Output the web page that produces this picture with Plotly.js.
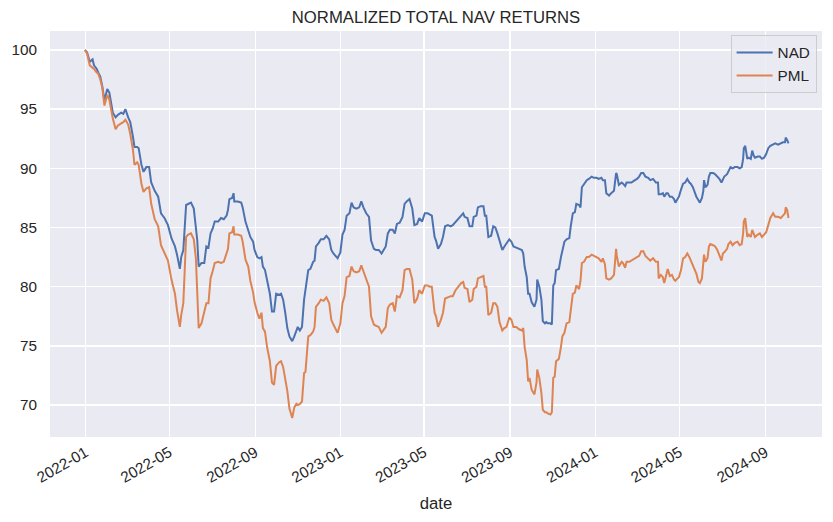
<!DOCTYPE html>
<html>
<head>
<meta charset="utf-8">
<script src="https://cdn.plot.ly/plotly-3.0.1.min.js"></script>
<style>
  html, body { margin: 0; padding: 0; background: #ffffff; }
  #chart { width: 833px; height: 522px; }
</style>
</head>
<body>
<div id="chart"></div>
<script>
// Dates of sampled observations
const dates = [
  "2021-12-31","2022-01-03","2022-01-07","2022-01-11","2022-01-13","2022-01-17","2022-01-19","2022-01-22","2022-01-25","2022-01-28",
  "2022-02-01","2022-02-04","2022-02-09","2022-02-13","2022-02-16","2022-02-21","2022-02-24","2022-02-27","2022-03-03","2022-03-06",
  "2022-03-10","2022-03-12","2022-03-16","2022-03-18","2022-03-22","2022-03-25","2022-03-29","2022-04-02","2022-04-05","2022-04-10",
  "2022-04-15","2022-04-19","2022-04-24","2022-04-29","2022-05-04","2022-05-09","2022-05-12","2022-05-16","2022-05-18","2022-05-21",
  "2022-05-25","2022-05-28","2022-06-01","2022-06-05","2022-06-08",
  "2022-06-10","2022-06-12","2022-06-16","2022-06-20","2022-06-23","2022-06-26","2022-06-29","2022-07-02","2022-07-05","2022-07-10",
  "2022-07-14","2022-07-18","2022-07-22","2022-07-24","2022-07-26","2022-07-30","2022-08-01","2022-08-02","2022-08-07","2022-08-12",
  "2022-08-14","2022-08-18","2022-08-22","2022-08-25","2022-08-29","2022-08-31","2022-09-04","2022-09-07","2022-09-10","2022-09-12",
  "2022-09-15","2022-09-18","2022-09-22","2022-09-25","2022-09-28","2022-10-01","2022-10-05","2022-10-08","2022-10-11","2022-10-14",
  "2022-10-17","2022-10-20","2022-10-24","2022-10-27","2022-10-30","2022-11-01","2022-11-04","2022-11-07","2022-11-10","2022-11-12",
  "2022-11-16","2022-11-19","2022-11-23",
  "2022-11-25","2022-11-27","2022-12-01","2022-12-04","2022-12-08","2022-12-12","2022-12-16","2022-12-19","2022-12-22","2022-12-26",
  "2022-12-28","2023-01-01","2023-01-04","2023-01-07","2023-01-10","2023-01-14","2023-01-17","2023-01-20","2023-01-24","2023-01-28",
  "2023-01-31","2023-02-03","2023-02-07","2023-02-11","2023-02-14","2023-02-18","2023-02-21","2023-02-25","2023-03-01","2023-03-04",
  "2023-03-07","2023-03-10","2023-03-13","2023-03-17","2023-03-20","2023-03-23","2023-03-27","2023-03-31","2023-04-03","2023-04-06",
  "2023-04-10","2023-04-14","2023-04-17","2023-04-21","2023-04-24","2023-04-28","2023-05-02","2023-05-06",
  "2023-05-09","2023-05-12","2023-05-16","2023-05-18","2023-05-21","2023-05-25","2023-05-28","2023-05-31","2023-06-04","2023-06-08",
  "2023-06-11","2023-06-15","2023-06-19","2023-06-23","2023-06-26","2023-06-28","2023-07-02","2023-07-05","2023-07-09","2023-07-11",
  "2023-07-15","2023-07-17","2023-07-21","2023-07-25","2023-07-27","2023-07-29","2023-08-01","2023-08-05","2023-08-08","2023-08-11",
  "2023-08-14","2023-08-17","2023-08-21","2023-08-24","2023-08-27","2023-08-31","2023-09-03","2023-09-06","2023-09-10","2023-09-14",
  "2023-09-18","2023-09-20","2023-09-22","2023-09-25","2023-09-27","2023-09-29","2023-10-02","2023-10-04","2023-10-06","2023-10-09",
  "2023-10-10","2023-10-13","2023-10-16","2023-10-18",
  "2023-10-21","2023-10-23","2023-10-25","2023-10-29","2023-10-31","2023-11-02","2023-11-04","2023-11-06","2023-11-10","2023-11-13",
  "2023-11-15","2023-11-18","2023-11-21","2023-11-25","2023-11-27","2023-11-30","2023-12-03","2023-12-05","2023-12-09","2023-12-11",
  "2023-12-13","2023-12-16","2023-12-20","2023-12-23","2023-12-27","2023-12-30","2024-01-03","2024-01-06","2024-01-10","2024-01-12",
  "2024-01-15","2024-01-17","2024-01-21","2024-01-24","2024-01-28","2024-01-31","2024-02-01","2024-02-04","2024-02-08","2024-02-10",
  "2024-02-13","2024-02-15","2024-02-19","2024-02-22","2024-02-27","2024-03-01","2024-03-04","2024-03-07","2024-03-10","2024-03-13",
  "2024-03-17","2024-03-20","2024-03-24","2024-03-28","2024-03-31",
  "2024-04-01","2024-04-04","2024-04-07","2024-04-09","2024-04-12","2024-04-14","2024-04-17","2024-04-20","2024-04-23","2024-04-25",
  "2024-04-28","2024-04-30","2024-05-03","2024-05-06","2024-05-09","2024-05-12","2024-05-15","2024-05-17","2024-05-20","2024-05-23",
  "2024-05-25","2024-05-28","2024-05-30","2024-06-02","2024-06-04","2024-06-05","2024-06-07","2024-06-10","2024-06-12","2024-06-14",
  "2024-06-18","2024-06-21","2024-06-24","2024-06-27","2024-06-30","2024-07-02","2024-07-04","2024-07-08","2024-07-10","2024-07-13",
  "2024-07-16","2024-07-19","2024-07-23","2024-07-26","2024-07-29","2024-07-31","2024-08-01","2024-08-03","2024-08-06","2024-08-08",
  "2024-08-11","2024-08-13","2024-08-15","2024-08-17","2024-08-21","2024-08-24","2024-08-27","2024-08-30","2024-09-02","2024-09-05",
  "2024-09-08","2024-09-12","2024-09-15","2024-09-19","2024-09-23","2024-09-26","2024-09-29","2024-09-30","2024-10-02","2024-10-04"
];

// NAD normalized total NAV return
const nad = [
  100,99.8,99.0,99.2,98.7,98.4,98.1,97.75,96.9,95.7,
  96.7,96.4,94.7,94.3,94.5,94.7,94.6,95.0,94.3,93.9,
  92.6,91.8,91.8,91.7,90.3,89.7,90.1,90.1,88.8,88.1,
  87.6,86.2,85.8,85.2,84.1,83.4,82.7,81.5,82.5,83.1,
  86.9,87.0,87.1,86.6,85.1,
  83.9,81.7,82.0,82.0,83.4,83.3,84.5,84.9,85.5,85.5,
  85.8,85.7,86.0,86.5,87.4,87.5,87.9,87.2,87.2,87.1,
  86.7,85.5,84.8,84.2,83.8,83.1,82.5,82.4,82.5,81.7,
  81.4,80.6,79.4,77.9,77.9,79.4,79.3,79.4,78.9,77.8,
  76.5,75.8,75.4,75.8,76.3,76.6,76.3,76.6,78.9,79.9,
  81.4,81.5,82.1,
  82.2,83.4,83.7,84.0,84.0,84.3,84.0,83.1,82.8,82.5,
  82.4,82.9,84.4,84.8,86.0,86.2,87.1,86.7,86.6,86.7,
  87.2,86.7,86.2,85.9,83.9,83.2,83.1,83.1,82.8,83.1,
  83.4,84.5,84.8,84.8,84.5,85.3,85.4,85.9,87.0,87.2,
  87.4,86.6,85.2,85.3,85.8,85.5,86.2,86.2,
  86.1,86.0,84.2,83.9,83.2,83.6,84.2,85.1,85.2,85.1,
  85.2,85.5,85.8,86.0,86.2,85.9,85.8,85.1,85.1,85.9,
  86.0,86.7,86.8,86.8,86.0,86.0,84.2,84.3,85.1,85.0,
  84.5,83.8,83.1,83.4,83.7,84.0,83.8,83.4,83.3,83.2,
  83.1,82.8,81.7,80.8,79.4,79.4,78.7,78.5,78.3,78.9,
  80.6,80.0,78.9,77.1,
  76.9,77.0,76.9,76.9,76.8,80.1,80.3,81.4,81.5,82.5,
  83.1,83.8,84.0,84.1,85.1,86.2,86.3,87.0,86.9,86.7,
  88.4,88.7,89.0,89.1,89.3,89.2,89.2,89.1,89.2,89.0,
  89.0,87.9,87.7,87.9,88.1,89.6,89.5,88.6,88.8,88.7,
  88.5,88.8,88.8,88.8,89.0,89.1,89.3,89.6,89.6,89.3,
  89.2,89.0,89.1,88.8,88.8,
  87.8,87.8,87.9,87.6,87.9,87.9,87.6,87.6,87.4,87.1,
  87.4,87.6,88.2,88.7,88.8,89.1,88.8,88.7,88.4,87.9,
  87.6,87.3,87.1,87.5,88.1,89.0,88.4,88.6,89.3,89.6,
  89.6,89.5,89.3,89.1,88.8,89.1,89.3,89.5,89.8,90.1,
  90.0,90.1,90.1,90.0,90.1,90.8,91.7,91.9,90.8,90.9,
  90.8,91.5,91.1,90.9,91.0,91.0,90.8,90.9,91.2,91.7,
  91.9,92.0,92.1,92.0,92.1,92.2,92.2,92.6,92.4,92.1
];

// PML normalized total NAV return
const pml = [
  100,99.7,98.7,98.5,98.4,98.1,98.0,97.5,96.8,95.3,
  96.2,95.8,94.2,93.3,93.6,93.8,93.9,94.1,93.7,92.9,
  91.5,90.3,90.5,90.3,88.7,88.0,88.3,88.4,87.0,85.7,
  85.1,83.5,82.9,82.2,80.6,79.4,78.0,76.6,77.6,78.6,
  84.2,84.4,84.5,84.0,82.4,
  79.0,76.5,76.9,77.8,78.6,78.6,80.7,81.3,82.0,82.1,
  82.0,82.1,82.8,83.2,84.5,84.6,85.1,84.4,84.4,84.3,
  83.8,82.3,81.7,80.5,79.5,78.7,77.8,77.3,77.8,76.5,
  76.2,74.9,73.7,71.9,71.7,73.3,73.6,73.7,73.2,72.2,
  71.2,69.7,68.9,69.8,70.1,70.0,70.1,70.3,72.7,72.8,
  75.8,75.9,76.2,
  76.6,78.3,78.6,78.9,78.8,79.1,78.6,77.2,76.8,76.3,
  76.1,76.9,78.6,79.2,80.8,80.9,81.7,81.3,81.2,81.3,
  81.8,81.3,80.6,80.0,77.5,76.8,76.7,76.6,76.1,76.4,
  76.6,78.2,78.5,78.6,77.9,79.2,79.1,79.7,81.4,81.5,
  81.5,80.6,78.6,79.0,79.7,79.4,80.1,80.1,
  80.0,80.0,77.8,77.5,76.6,77.2,77.8,79.0,79.1,79.2,
  79.2,79.7,80.0,80.3,80.4,79.9,79.8,78.7,78.9,79.8,
  80.0,80.7,80.8,80.9,80.0,80.0,77.6,77.8,78.6,78.6,
  78.3,77.0,76.3,76.5,76.6,77.4,77.2,76.6,76.6,76.4,
  76.3,76.5,74.9,73.8,72.0,72.3,71.3,71.1,70.9,71.9,
  73.0,72.3,71.0,69.6,
  69.4,69.4,69.3,69.2,69.4,72.3,72.4,73.7,73.9,74.9,
  75.8,76.1,76.9,77.0,77.9,79.4,79.5,80.1,79.8,80.5,
  82.0,82.1,82.5,82.5,82.7,82.6,82.5,82.4,82.1,82.4,
  81.9,80.7,80.6,80.7,81.0,83.2,82.6,81.7,82.1,82.0,
  81.6,82.1,82.1,82.2,82.4,82.5,82.6,83.0,83.0,82.6,
  82.4,82.2,82.4,82.1,82.1,
  80.7,81.0,80.8,80.3,81.1,81.5,80.9,81.0,80.6,80.5,
  80.7,80.8,81.4,82.4,82.5,82.8,82.5,82.2,81.9,81.4,
  81.1,80.4,80.3,80.7,81.7,82.7,82.1,82.4,83.4,83.6,
  83.5,83.4,83.1,82.7,82.2,82.8,82.9,83.2,83.6,83.8,
  83.5,83.7,83.8,83.5,83.6,84.5,85.5,85.8,84.2,84.4,
  84.2,84.8,84.4,84.2,84.4,84.5,84.2,84.4,84.6,85.2,
  85.8,86.2,85.9,85.9,85.8,86.0,86.2,86.7,86.5,85.8
];

const seriesNames = ["NAD", "PML"];
const tickVals = ["2022-01-01","2022-05-01","2022-09-01","2023-01-01","2023-05-01","2023-09-01","2024-01-01","2024-05-01","2024-09-01"];
const tickText = ["2022-01","2022-05","2022-09","2023-01","2023-05","2023-09","2024-01","2024-05","2024-09"];
const yTicks = [70, 75, 80, 85, 90, 95, 100];

const FONT = "'Liberation Sans', Arial, 'DejaVu Sans', sans-serif";
const TXT = "#262626";

const traces = [
  { x: dates, y: nad, name: seriesNames[0], type: "scatter", mode: "lines",
    line: { color: "#4C72B0", width: 2 } },
  { x: dates, y: pml, name: seriesNames[1], type: "scatter", mode: "lines",
    line: { color: "#DD8452", width: 2 } }
];

const layout = {
  width: 833, height: 522,
  paper_bgcolor: "#ffffff",
  plot_bgcolor: "#EAEAF2",
  margin: { l: 50, r: 11, t: 31, b: 85 },
  font: { family: FONT, size: 15.3, color: TXT },
  title: { text: "NORMALIZED TOTAL NAV RETURNS", xref: "paper", x: 0.5, xanchor: "center", y: 0.968, yanchor: "middle",
           font: { family: FONT, size: 16.7, color: TXT } },
  xaxis: {
    type: "date",
    range: ["2021-11-11", "2024-11-21"],
    tickmode: "array", tickvals: tickVals, ticktext: tickText,
    tickangle: -30,
    showgrid: true, gridcolor: "#ffffff", gridwidth: 1.3,
    zeroline: false, showline: false, ticks: "",
    ticklabelstandoff: 3,
    tickfont: { family: FONT, size: 15.3, color: TXT },
    title: { text: "date", font: { family: FONT, size: 16.7, color: TXT }, standoff: 12 }
  },
  yaxis: {
    range: [67.3, 101.6],
    tickmode: "array", tickvals: yTicks,
    showgrid: true, gridcolor: "#ffffff", gridwidth: 1.3,
    zeroline: false, showline: false, ticks: "",
    ticklabelstandoff: 12,
    tickfont: { family: FONT, size: 15.3, color: TXT }
  },
  legend: {
    x: 0.993, y: 0.99, xanchor: "right", yanchor: "top",
    bgcolor: "rgba(234,234,242,0.8)", bordercolor: "#cccccc", borderwidth: 1,
    font: { family: FONT, size: 15.3, color: TXT },
    itemwidth: 36, tracegroupgap: 0
  },
  showlegend: true
};

Plotly.newPlot("chart", traces, layout, { displayModeBar: false, staticPlot: true });
</script>
</body>
</html>
